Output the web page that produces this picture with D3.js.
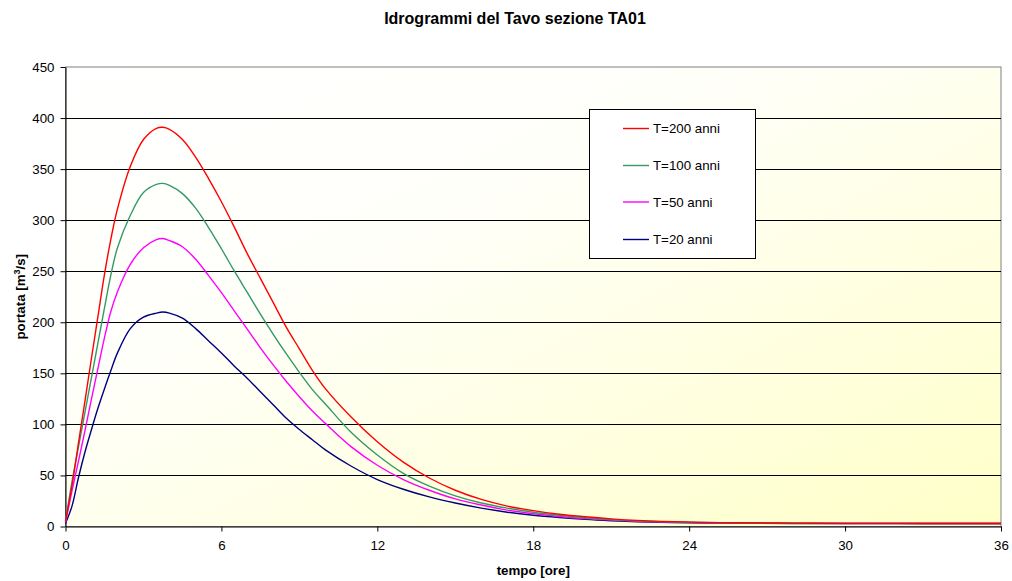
<!DOCTYPE html>
<html>
<head>
<meta charset="utf-8">
<script src="https://cdn.jsdelivr.net/npm/d3@7/dist/d3.min.js"></script>
<style>
  html, body { margin: 0; padding: 0; background: #fff; }
  svg { display: block; font-family: Arial, "Liberation Sans", sans-serif; }
</style>
</head>
<body>
<svg id="chart" width="1012" height="581"></svg>
<script>
// ---- data ----
const times = [0,0.25,0.5,0.75,1,1.25,1.5,1.75,2,2.5,3,3.5,3.75,4,4.5,5,5.5,6,6.5,7,7.5,8,8.5,9,9.5,10,11,12,13,14,15,16,17,18,19,20,21,22,24,26,28,30,33,36];
const seriesNames = ["T=200 anni", "T=100 anni", "T=50 anni", "T=20 anni"];
const q200 = [5,40,82,123,165,206,247,282,311,353,379,390,391,389,379,362,341,318,293,267,243,219,195,174,153,135,107,83,63,47.5,35.5,26.5,20,15.5,12,9.5,7.5,6,4.3,3.6,3.3,3.1,3,3];
const q100 = [5,44,78,112,146,180,214,247,273,305,327,335,336,334,326,312,293,272,250,229,208,188,169,151,134,120,92,70,52,39.5,30,23,18,14,11,8.5,6.8,5.5,4.2,3.5,3.2,3.1,3,3];
const q50  = [4,35,64,94,125,155,185,211,230,257,273,281,282,280,274,262,246,229,211,193,175,158,142,127,113,101,78,60,46,35.5,27,21,16,12.5,9.8,7.7,6.2,5,4,3.4,3.1,3,3,3];
const q20  = [3,20,48,73,95,116,135,153,170,194,205,209,210,209,204,194,182,170,157,145,132,119,106,95,85,75,59,46,36.5,29,23,18,14,11,8.8,7,5.7,4.7,3.6,3.2,3,3,3,3];
const xTicks = [0,6,12,18,24,30,36];
const yTicks = [0,50,100,150,200,250,300,350,400,450];
const colors = ["#FF0000", "#339966", "#FF00FF", "#000080"];
const titleText = "Idrogrammi del Tavo sezione TA01";
const xTitle = "tempo [ore]";

const allSeries = [q200, q100, q50, q20];

const svg = d3.select("#chart");
const L = 65.5, R = 1001, T = 67, B = 526.5;

const x = d3.scaleLinear().domain([0, 36]).range([L, R]);
const y = d3.scaleLinear().domain([0, 450]).range([B, T]);

// background gradient
const defs = svg.append("defs");
const grad = defs.append("linearGradient").attr("id", "bg")
  .attr("x1", "0").attr("y1", "0").attr("x2", "1").attr("y2", "1");
grad.append("stop").attr("offset", "0").attr("stop-color", "#FFFFFF");
grad.append("stop").attr("offset", "0.35").attr("stop-color", "#FFFFFA");
grad.append("stop").attr("offset", "1").attr("stop-color", "#FFFFC8");

svg.append("rect").attr("x", L).attr("y", T).attr("width", R - L).attr("height", B - T)
  .attr("fill", "url(#bg)").attr("stroke", "#808080").attr("stroke-width", 1);

// gridlines
svg.append("g").selectAll("line").data(yTicks.filter(v => v > 0 && v < 450)).join("line")
  .attr("x1", L).attr("x2", R)
  .attr("y1", d => Math.round(y(d)) + 0.5).attr("y2", d => Math.round(y(d)) + 0.5)
  .attr("stroke", "#000").attr("stroke-width", 1);

// axes
const yAxis = d3.axisLeft(y).tickValues(yTicks).tickSize(5).tickPadding(6).tickSizeOuter(0);
const xAxis = d3.axisBottom(x).tickValues(xTicks).tickSize(5).tickPadding(9).tickSizeOuter(0);

const gy = svg.append("g").attr("transform", `translate(${L},0)`).call(yAxis);
const gx = svg.append("g").attr("transform", `translate(0,${B})`).call(xAxis);
[gx, gy].forEach(g => {
  g.selectAll("path.domain").attr("stroke", "#000").attr("stroke-width", 1);
  g.selectAll(".tick line").attr("stroke", "#000");
  g.selectAll("text").attr("font-size", "13.3px").attr("fill", "#000")
    .attr("font-family", "Arial, 'Liberation Sans', sans-serif");
});

// lines
const line = d3.line()
  .x((d, i) => x(times[i]))
  .y(d => y(d))
  .curve(d3.curveCatmullRom.alpha(0.5));

svg.append("g").selectAll("path").data(allSeries.slice().reverse()).join("path")
  .attr("d", d => line(d))
  .attr("fill", "none")
  .attr("stroke", (d, i) => colors[colors.length - 1 - i])
  .attr("stroke-width", 1.4);

// title
svg.append("text").attr("x", 515).attr("y", 24).attr("text-anchor", "middle")
  .attr("font-size", "16px").attr("font-weight", "bold").text(titleText);

// x axis title
svg.append("text").attr("x", (L + R) / 2).attr("y", 575).attr("text-anchor", "middle")
  .attr("font-size", "13.3px").attr("font-weight", "bold").text(xTitle);

// y axis title
const yt = svg.append("text").attr("transform", `translate(25,${(T + B) / 2}) rotate(-90)`)
  .attr("text-anchor", "middle").attr("font-size", "13.3px").attr("font-weight", "bold");
yt.append("tspan").text("portata [m");
yt.append("tspan").attr("font-size", "9px").attr("dy", "-5").text("3");
yt.append("tspan").attr("dy", "5").text("/s]");

// legend
const lg = svg.append("g");
lg.append("rect").attr("x", 589.5).attr("y", 109.5).attr("width", 166).attr("height", 149)
  .attr("fill", "#fff").attr("stroke", "#000").attr("stroke-width", 1);
const rowY = [128.5, 165.5, 202, 239.5];
seriesNames.forEach((name, i) => {
  lg.append("line").attr("x1", 623).attr("x2", 649).attr("y1", rowY[i]).attr("y2", rowY[i])
    .attr("stroke", colors[i]).attr("stroke-width", 1.4);
  lg.append("text").attr("x", 653).attr("y", rowY[i]).attr("dy", "0.35em")
    .attr("font-size", "13.3px").text(name);
});
</script>
</body>
</html>
